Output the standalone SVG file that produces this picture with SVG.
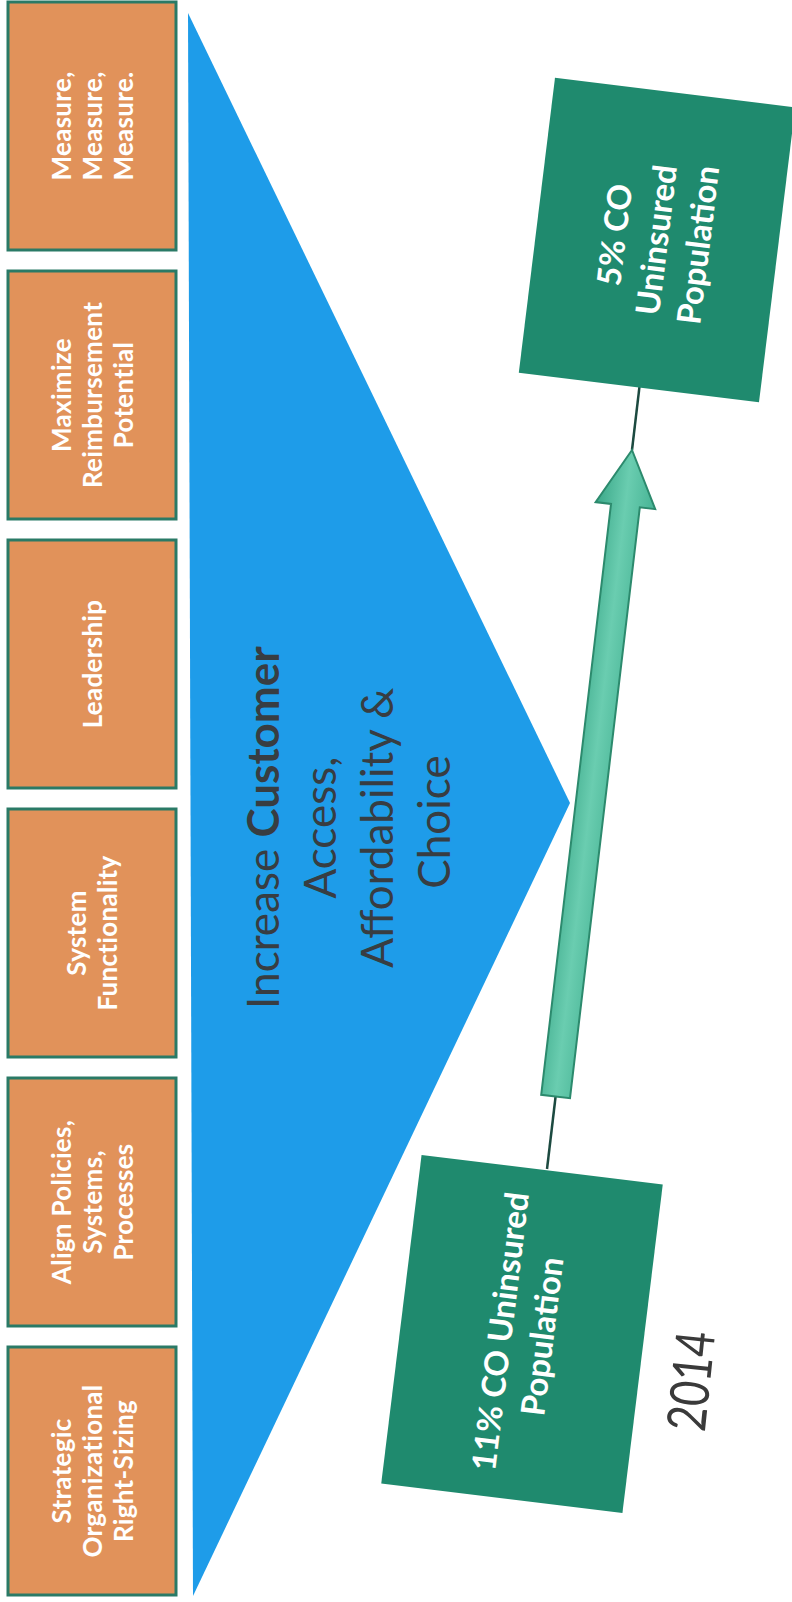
<svg xmlns="http://www.w3.org/2000/svg" width="792" height="1602" viewBox="0 0 792 1602">
<defs>
<style>
.obox{fill:#E1925A;stroke:#2A7A66;stroke-width:3}
.otxt{font-family:Lato,"Open Sans",sans-serif;font-weight:700;font-size:26px;letter-spacing:0.3px;fill:#ffffff;text-anchor:middle}
.gbox{fill:#1F8A6E}
.gtxt{font-family:Lato,"Open Sans",sans-serif;font-weight:700;font-size:33px;fill:#ffffff;text-anchor:middle}
.main{font-family:Lato,"Open Sans",sans-serif;font-weight:400;font-size:44px;fill:#383d42;text-anchor:middle}
.conn{stroke:#1C4A40;stroke-width:2.5;fill:none}
</style>
<linearGradient id="arrowGrad" x1="-30" y1="0" x2="30" y2="0" gradientUnits="userSpaceOnUse">
<stop offset="0" stop-color="#3BA889"/>
<stop offset="0.5" stop-color="#6ACDB0"/>
<stop offset="1" stop-color="#46B394"/>
</linearGradient>
</defs>
<rect width="792" height="1602" fill="#ffffff"/>

<g id="triangle">
<polygon points="188,13 570,803 193,1596" fill="#1E9CE9"/>
<text class="main" transform="translate(0,822) rotate(-90)">
<tspan x="0" y="279">Increase <tspan font-weight="700">Customer</tspan></tspan>
<tspan x="0" y="336">Access,</tspan>
<tspan x="0" y="393">Affordability &amp;</tspan>
<tspan x="0" y="450">Choice</tspan>
</text>
</g>

<g id="box-measure">
<rect class="obox" x="8" y="2" width="168" height="248"/>
<text class="otxt" transform="translate(0,126) rotate(-90)"><tspan x="0" y="71">Measure,</tspan><tspan x="0" y="102">Measure,</tspan><tspan x="0" y="133">Measure.</tspan></text>
</g>
<g id="box-reimbursement">
<rect class="obox" x="8" y="271" width="168" height="248"/>
<text class="otxt" transform="translate(0,395) rotate(-90)"><tspan x="0" y="71">Maximize</tspan><tspan x="0" y="102">Reimbursement</tspan><tspan x="0" y="133">Potential</tspan></text>
</g>
<g id="box-leadership">
<rect class="obox" x="8" y="540" width="168" height="248"/>
<text class="otxt" transform="translate(0,664) rotate(-90)"><tspan x="0" y="102">Leadership</tspan></text>
</g>
<g id="box-system">
<rect class="obox" x="8" y="809" width="168" height="248"/>
<text class="otxt" transform="translate(0,933) rotate(-90)"><tspan x="0" y="86">System</tspan><tspan x="0" y="117">Functionality</tspan></text>
</g>
<g id="box-align">
<rect class="obox" x="8" y="1078" width="168" height="248"/>
<text class="otxt" transform="translate(0,1202) rotate(-90)"><tspan x="0" y="71">Align Policies,</tspan><tspan x="0" y="102">Systems,</tspan><tspan x="0" y="133">Processes</tspan></text>
</g>
<g id="box-strategic">
<rect class="obox" x="8" y="1347" width="168" height="248"/>
<text class="otxt" transform="translate(0,1471) rotate(-90)"><tspan x="0" y="71">Strategic</tspan><tspan x="0" y="102">Organizational</tspan><tspan x="0" y="133">Right-Sizing</tspan></text>
</g>

<g id="connectors">
<g transform="translate(632,450) rotate(6.74)">
<line class="conn" x1="0" y1="0" x2="0" y2="-64"/>
<line class="conn" x1="0" y1="651" x2="0" y2="724"/>
<polygon points="0,0 30,56 14.5,56 14.5,651 -14.5,651 -14.5,56 -30,56" fill="url(#arrowGrad)" stroke="#2C8A6D" stroke-width="2"/>
</g>
</g>

<g id="box-11pct" transform="translate(522,1334) rotate(7)">
<rect class="gbox" x="-121.5" y="-165.5" width="243" height="331"/>
<text class="gtxt" transform="rotate(-90)"><tspan x="0" y="-10">11% CO Uninsured</tspan><tspan x="0" y="32">Population</tspan></text>
</g>

<g id="box-5pct" transform="translate(657,240) rotate(7)">
<rect class="gbox" x="-121" y="-148.5" width="242" height="297"/>
<text class="gtxt" transform="rotate(-90)"><tspan x="0" y="-31">5% CO</tspan><tspan x="0" y="11">Uninsured</tspan><tspan x="0" y="53">Population</tspan></text>
</g>

<g id="year">
<text transform="translate(710,1383) rotate(-84)" font-family="Lato,'Open Sans',sans-serif" font-weight="400" font-size="54" fill="#3a3a3a" text-anchor="middle" textLength="100" lengthAdjust="spacingAndGlyphs">2014</text>
</g>
</svg>
